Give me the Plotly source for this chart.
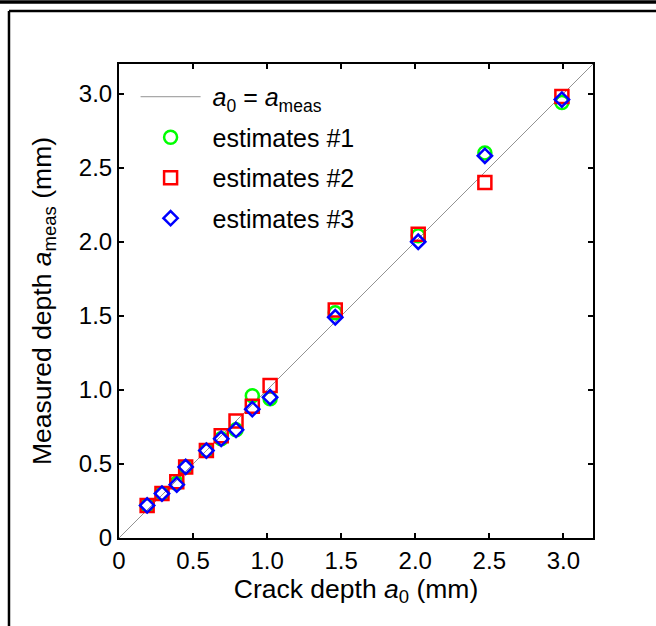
import plotly.graph_objects as go

# Data
crack_depth = [0.19, 0.29, 0.39, 0.45, 0.59, 0.69, 0.79, 0.90, 1.02, 1.46, 2.02, 2.47, 2.99]
estimates_1 = [0.22, 0.30, 0.37, 0.48, 0.59, 0.67, 0.73, 0.96, 0.94, 1.52, 2.04, 2.60, 2.94]
estimates_2 = [0.22, 0.30, 0.38, 0.48, 0.59, 0.69, 0.79, 0.89, 1.03, 1.54, 2.05, 2.40, 2.98]
estimates_3 = [0.22, 0.30, 0.36, 0.48, 0.59, 0.67, 0.73, 0.87, 0.95, 1.49, 2.00, 2.58, 2.96]
identity_x = [0, 3.2]
identity_y = [0, 3.2]
tick_vals = [0, 0.5, 1.0, 1.5, 2.0, 2.5, 3.0]
tick_text = ["0", "0.5", "1.0", "1.5", "2.0", "2.5", "3.0"]

FONT = "Liberation Sans, Arial, Helvetica, sans-serif"
NB = "\u00a0"

fig = go.Figure()
fig.add_trace(go.Scatter(
    x=identity_x, y=identity_y, mode="lines",
    line=dict(color="#777777", width=0.8),
    name=NB + "<i>a</i><sub>0</sub> = <i>a</i><sub>meas</sub>", legendgroup="g0"))
fig.add_trace(go.Scatter(
    x=crack_depth, y=estimates_1, mode="markers",
    marker=dict(symbol="circle-open", size=13, color="#00FF00", line=dict(width=2.5, color="#00FF00")),
    name=NB + "estimates #1", legendgroup="g1"))
fig.add_trace(go.Scatter(
    x=crack_depth, y=estimates_2, mode="markers",
    marker=dict(symbol="square-open", size=13, color="#FF0000", line=dict(width=2.5, color="#FF0000")),
    name=NB + "estimates #2", legendgroup="g2"))
fig.add_trace(go.Scatter(
    x=crack_depth, y=estimates_3, mode="markers",
    marker=dict(symbol="diamond-open", size=11, color="#0000FF", line=dict(width=2.5, color="#0000FF")),
    name=NB + "estimates #3", legendgroup="g3"))

axis_common = dict(
    range=[0, 3.2], showgrid=False, zeroline=False,
    showline=True, linecolor="black", linewidth=2, mirror="ticks",
    ticks="inside", ticklen=5, tickwidth=2, tickcolor="black",
    tickvals=tick_vals, ticktext=tick_text,
    tickfont=dict(family=FONT, size=24, color="black"),
)

fig.update_layout(
    width=656, height=626,
    margin=dict(l=119, r=63, t=64, b=88),
    paper_bgcolor="white", plot_bgcolor="white",
    font=dict(family=FONT, size=24, color="black"),
    xaxis=dict(**axis_common,
               title=dict(text="Crack depth <i>a</i><sub>0</sub> (mm)",
                          font=dict(family=FONT, size=26.5), standoff=2)),
    yaxis=dict(**axis_common,
               title=dict(text="Measured depth <i>a</i><sub>meas</sub> (mm)",
                          font=dict(family=FONT, size=26.5), standoff=20)),
    showlegend=True,
    legend=dict(x=0.035, y=0.979, xanchor="left", yanchor="top",
                bgcolor="rgba(0,0,0,0)", borderwidth=0,
                font=dict(family=FONT, size=25), itemwidth=60,
                tracegroupgap=5),
    shapes=[
        dict(type="line", xref="paper", yref="paper",
             x0=-0.2511, x1=1.133, y0=1.1308, y1=1.1308,
             line=dict(color="black", width=3.5)),
        dict(type="line", xref="paper", yref="paper",
             x0=-0.2321, x1=1.133, y0=1.1118, y1=1.1118,
             line=dict(color="black", width=2.5)),
        dict(type="line", xref="paper", yref="paper",
             x0=-0.2321, x1=-0.2321, y0=1.1118, y1=-0.1857,
             line=dict(color="black", width=2.5)),
    ],
)

fig.write_html("out.html", config={"displayModeBar": False},
               post_script="document.body.style.margin='0';")
